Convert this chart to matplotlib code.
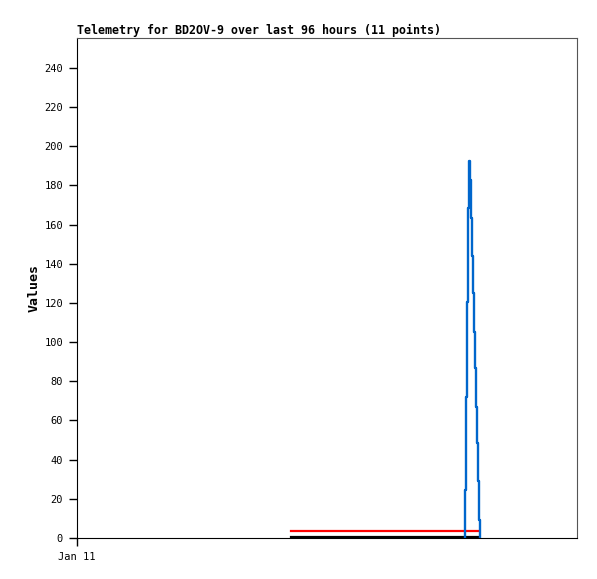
import matplotlib
matplotlib.use("Agg")
import matplotlib.pyplot as plt

# Data (hours since Jan 11 00:00)
blue_t = [74.50, 74.65, 74.79, 74.98, 75.17, 75.50, 75.67, 75.84, 76.04, 76.21,
          76.40, 76.59, 76.78, 76.98, 77.15]
blue_v = [24.5, 72, 120.5, 168.5, 192.5, 183, 163.4, 144, 125, 105,
          87, 67, 48.5, 29, 9.2]
red_t = [41.1, 77.2]
red_v = [3.8, 3.8]
black_t = [41.1, 77.0]
black_v = [0.3, 0.3]
yticks = [0, 20, 40, 60, 80, 100, 120, 140, 160, 180, 200, 220, 240]
xtick_pos = [0]
xtick_labels = ["Jan 11"]
title = "Telemetry for BD2OV-9 over last 96 hours (11 points)"

fig = plt.figure(figsize=(5.97, 5.79), dpi=100)
ax = fig.add_axes([77/597, 1-538/579, 500/597, 500/579])

# blue step line: starts at 0, steps up/down, returns to 0
bt = [blue_t[0]] + blue_t + [blue_t[-1] + 0.13]
bv = [0] + blue_v + [0]
ax.step(bt, bv, where="post", color="#0066CC", lw=1.7, zorder=3)
ax.plot(red_t, red_v, color="#FF0000", lw=1.6, zorder=2)
ax.plot(black_t, black_v, color="black", lw=1.6, zorder=2)

ax.set_xlim(0, 96)
ax.set_ylim(0, 255.3)
ax.set_yticks(yticks)
ax.set_yticklabels([str(v) for v in yticks], family="DejaVu Sans Mono", fontsize=7.5)
ax.set_xticks(xtick_pos)
ax.set_xticklabels(xtick_labels, family="DejaVu Sans Mono", fontsize=7.5)
ax.tick_params(axis="both", direction="out", length=6, width=1, color="black", pad=4)

for s in ["left", "bottom"]:
    ax.spines[s].set_color("black")
for s in ["top", "right"]:
    ax.spines[s].set_color("#555555")

ax.set_ylabel("Values", family="DejaVu Sans Mono", fontweight="bold", fontsize=9.5, labelpad=3)
ax.set_title(title, loc="left", family="DejaVu Sans Mono", fontweight="bold", fontsize=8.4, pad=3)

fig.savefig("out.png", dpi=100)
